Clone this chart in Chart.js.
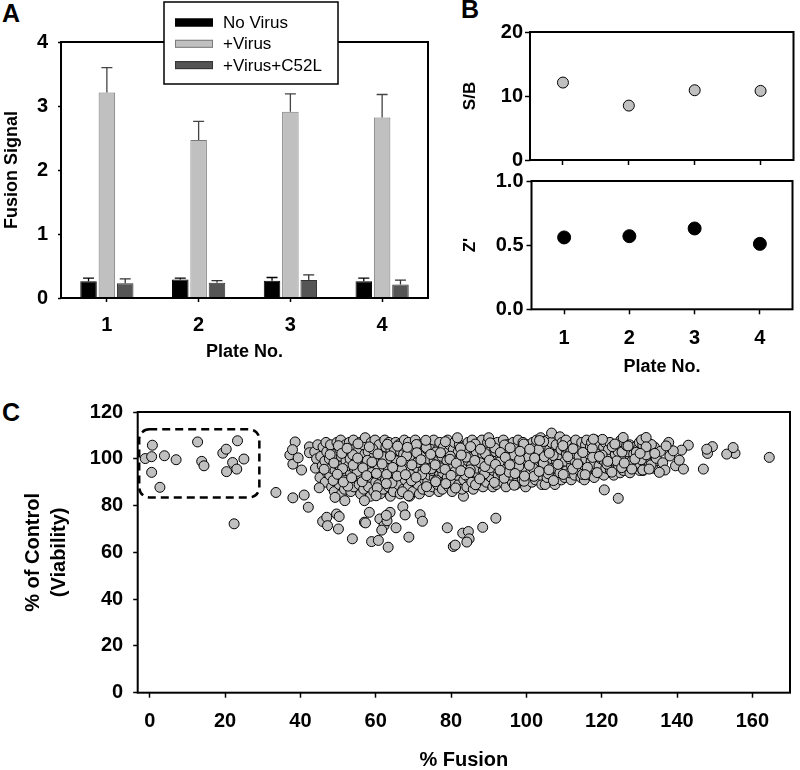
<!DOCTYPE html>
<html>
<head>
<meta charset="utf-8">
<script src="https://cdn.jsdelivr.net/npm/chart.js@4.4.0/dist/chart.umd.min.js"></script>
<style>
  body { margin: 0; background: #fff; width: 800px; height: 770px; position: relative; overflow: hidden;
         font-family: "Liberation Sans", Arial, sans-serif; }
  canvas { position: absolute; }
  .panel { position: absolute; font-weight: bold; font-size: 25px; line-height: 1; }
</style>
</head>
<body>
<div class="panel" style="left:2px;top:1px">A</div>
<div class="panel" style="left:461px;top:-3px">B</div>
<div class="panel" style="left:2px;top:400px">C</div>
<canvas id="chartA" width="440" height="370" style="left:0;top:0"></canvas>
<canvas id="chartSB" width="340" height="175" style="left:460px;top:0"></canvas>
<canvas id="chartZ" width="340" height="215" style="left:460px;top:165px"></canvas>
<canvas id="chartC" width="800" height="380" style="left:0;top:390px"></canvas>
<script>
// ---- datos ----
const plateNo = ['1', '2', '3', '4'];
const plateNum = [1, 2, 3, 4];

// A: señal de fusión (media + error)
const noVirus = [0.26, 0.29, 0.27, 0.26];
const noVirusErr = [0.05, 0.02, 0.05, 0.05];
const plusVirus = [3.21, 2.47, 2.91, 2.82];
const plusVirusErr = [0.39, 0.29, 0.28, 0.36];
const plusC52L = [0.23, 0.24, 0.28, 0.21];
const plusC52LErr = [0.07, 0.03, 0.08, 0.07];
const fusionTicks = [0, 1, 2, 3, 4];

// B: S/B y Z'
const sbRatio = [12.1, 8.5, 10.9, 10.8];
const zPrime = [0.56, 0.57, 0.63, 0.51];

// C: % fusión vs % viabilidad  [x, y]
const boxedHits = [
  [-1.2, 100.1], [0.7, 105.8], [0.5, 100.9], [0.5, 94.2], [2.7, 87.8], [3.9, 101.3], [7.0, 99.6],
  [12.7, 107.2], [13.8, 98.9], [14.4, 97.0], [19.4, 102.4], [20.3, 104.1], [20.4, 94.5],
  [22.0, 98.4], [23.1, 95.6], [23.3, 107.7], [25.0, 99.9]
];
const leftEdge = [
  [22.4, 72.2], [37.2, 101.6], [38.6, 107.2], [37.9, 103.9], [38.0, 97.7], [39.4, 100.4], [40.3, 95.2],
  [42.4, 105.1], [42.4, 102.6], [43.8, 103], [44.3, 100], [44.6, 106], [44.0, 96]
];
const mainBand = [
  [45.2, 92], [45.8, 97], [45.4, 101], [46.0, 105],
  [46.6, 90], [47.1, 94], [46.5, 99], [47.0, 103], [46.8, 107],
  [48.3, 88], [47.8, 93], [48.2, 96], [47.7, 100], [48.4, 104], [48.0, 106],
  [49.0, 86], [49.6, 91], [49.2, 95], [49.5, 98], [49.1, 102], [49.7, 107],
  [50.9, 85], [50.3, 89], [50.8, 93], [50.4, 97], [50.9, 101], [50.5, 104], [50.7, 108],
  [51.7, 87], [52.2, 92], [51.8, 95], [52.1, 99], [51.6, 103], [52.0, 106],
  [53.4, 86], [52.9, 90], [53.3, 94], [52.8, 97], [53.2, 100], [53.5, 104], [53.0, 107],
  [54.2, 88], [54.7, 92], [54.3, 96], [54.8, 99], [54.4, 102], [54.6, 105], [54.1, 108],
  [56.0, 85], [55.6, 89], [56.1, 93], [55.7, 97], [56.2, 101], [55.5, 104], [55.9, 107],
  [56.8, 87], [57.3, 91], [56.9, 95], [57.4, 98], [57.1, 102], [56.7, 106], [57.2, 109],
  [58.6, 84], [58.1, 88], [58.7, 92], [58.2, 96], [58.5, 100], [58.0, 103], [58.8, 107],
  [59.5, 86], [60.0, 90], [59.4, 94], [59.9, 97], [59.6, 101], [60.1, 105], [59.8, 108],
  [61.2, 85], [60.8, 89], [61.3, 93], [60.7, 96], [61.1, 99], [61.4, 103], [60.9, 106],
  [62.0, 87], [62.6, 91], [62.1, 95], [62.5, 98], [62.2, 102], [62.7, 105], [62.4, 108],
  [63.9, 84], [63.4, 88], [63.8, 92], [63.3, 96], [63.7, 100], [64.0, 104], [63.5, 107],
  [64.7, 86], [65.2, 90], [64.8, 94], [65.1, 97], [64.6, 101], [65.0, 104], [65.3, 107],
  [66.5, 85], [66.0, 89], [66.4, 93], [65.9, 97], [66.3, 100], [66.6, 103], [66.1, 106],
  [67.3, 87], [67.8, 91], [67.2, 95], [67.7, 98], [67.4, 102], [67.9, 105], [67.6, 108],
  [69.0, 84], [68.6, 88], [69.1, 92], [68.5, 96], [68.9, 99], [69.2, 103], [68.7, 107],
  [69.9, 86], [70.4, 90], [70.0, 94], [70.3, 97], [69.8, 101], [70.2, 104], [70.5, 108],
  [71.6, 85], [71.2, 89], [71.7, 93], [71.1, 96], [71.5, 100], [71.3, 103], [71.8, 106],
  [72.5, 87], [73.0, 91], [72.6, 95], [72.9, 98], [72.4, 102], [72.8, 106],
  [74.2, 86], [73.8, 90], [74.3, 93], [73.9, 97], [74.1, 100], [73.7, 104], [74.4, 107],
  [75.1, 88], [75.6, 92], [75.0, 95], [75.5, 99], [75.2, 102], [75.7, 105], [75.4, 108],
  [76.8, 86], [76.4, 89], [76.9, 93], [76.3, 97], [76.7, 101], [76.5, 104], [77.0, 107],
  [77.7, 87], [78.2, 91], [77.8, 94], [78.1, 98], [77.6, 101], [78.0, 105],
  [79.4, 88], [79.0, 92], [79.5, 96], [78.9, 99], [79.3, 103], [79.6, 106], [79.1, 108],
  [80.3, 86], [80.8, 90], [80.4, 94], [80.7, 97], [80.2, 101], [80.6, 104], [80.9, 107],
  [82.0, 89], [81.6, 93], [82.1, 96], [81.5, 100], [81.9, 103], [82.2, 106], [81.7, 109],
  [83.3, 84], [82.9, 87], [83.4, 91], [82.8, 95], [83.2, 98], [83.5, 102], [83.0, 105],
  [84.2, 88], [84.7, 92], [84.3, 96], [84.6, 99], [84.1, 103], [84.5, 107],
  [85.9, 87], [85.5, 90], [86.0, 94], [85.4, 97], [85.8, 101], [86.1, 104], [85.6, 108],
  [86.8, 89], [87.3, 93], [86.9, 96], [87.2, 100], [86.7, 103], [87.1, 106],
  [88.5, 88], [88.1, 91], [88.6, 95], [88.0, 98], [88.4, 102], [88.7, 105], [88.2, 108],
  [89.4, 90], [89.9, 93], [89.5, 97], [89.8, 100], [89.3, 104], [89.7, 107], [90.0, 109],
  [91.1, 88], [90.7, 92], [91.2, 95], [90.6, 99], [91.0, 102], [91.3, 106],
  [92.0, 89], [92.5, 93], [92.1, 96], [92.4, 100], [91.9, 103], [92.3, 107],
  [93.7, 90], [93.3, 94], [93.8, 97], [93.2, 101], [93.6, 104], [93.9, 108],
  [94.6, 88], [95.1, 92], [94.7, 96], [95.0, 99], [94.5, 102], [94.9, 106],
  [96.3, 90], [95.9, 93], [96.4, 97], [95.8, 100], [96.2, 104], [96.5, 107],
  [97.2, 89], [97.7, 92], [97.3, 95], [97.6, 99], [97.1, 102], [97.5, 105], [97.8, 108],
  [98.9, 91], [98.5, 94], [99.0, 98], [98.4, 101], [98.8, 104], [99.1, 107],
  [99.8, 88], [100.3, 92], [99.9, 95], [100.2, 99], [99.7, 102], [100.1, 106],
  [101.5, 90], [101.1, 94], [101.6, 97], [101.0, 100], [101.4, 103], [101.7, 107],
  [102.4, 91], [102.9, 95], [102.5, 98], [102.8, 102], [102.3, 105], [102.7, 108],
  [104.1, 89], [103.7, 93], [104.2, 96], [103.6, 100], [104.0, 103], [104.3, 106], [103.8, 109],
  [105.0, 89], [105.5, 92], [105.1, 95], [105.4, 99], [104.9, 102], [105.3, 105], [105.6, 108],
  [106.7, 93], [106.3, 97], [106.8, 100], [106.2, 104], [106.6, 107], [106.7, 111],
  [107.6, 89], [108.1, 92], [107.7, 96], [108.0, 99], [107.5, 102], [107.9, 106], [108.9, 109.4],
  [109.3, 91], [108.9, 94], [109.4, 98], [108.8, 101], [109.2, 104], [109.5, 107],
  [110.2, 92], [110.7, 95], [110.3, 99], [110.6, 102], [110.1, 105], [110.5, 108],
  [111.9, 91], [111.5, 94], [112.0, 97], [111.4, 100], [111.8, 103], [112.1, 106],
  [112.8, 93], [113.3, 96], [112.9, 99], [113.2, 102], [112.7, 105], [113.1, 108],
  [114.5, 92], [114.1, 95], [114.6, 98], [114.0, 101], [114.4, 104], [114.7, 107],
  [115.4, 91], [115.9, 94], [115.5, 97], [115.8, 100], [115.3, 103], [115.7, 106], [116.0, 108],
  [117.1, 93], [116.7, 96], [117.2, 99], [116.6, 102], [117.0, 105], [117.3, 107],
  [118.0, 92], [118.5, 95], [118.1, 98], [118.4, 101], [117.9, 104], [118.3, 108],
  [119.7, 94], [119.3, 97], [119.8, 100], [119.2, 103], [119.6, 106],
  [120.6, 93], [121.1, 96], [120.7, 99], [121.0, 102], [120.5, 105], [120.9, 107],
  [122.3, 95], [121.9, 98], [122.4, 101], [121.8, 104], [122.2, 107],
  [123.2, 93], [123.7, 96], [123.3, 99], [123.6, 102], [123.1, 105],
  [124.9, 94], [124.5, 97], [125.0, 100], [124.4, 103], [124.8, 106], [125.1, 108],
  [125.8, 95], [126.3, 98], [125.9, 101], [126.2, 104], [125.7, 107],
  [127.5, 94], [127.1, 97], [127.6, 100], [127.0, 103], [127.4, 106],
  [128.4, 96], [128.9, 99], [128.5, 102], [128.8, 105],
  [130.1, 95], [129.7, 98], [130.2, 101], [129.6, 104], [130.0, 107],
  [131.0, 95], [131.5, 97], [131.1, 100], [131.4, 103], [130.9, 106],
  [132.7, 98], [132.3, 101], [132.8, 104], [132.2, 107],
  [133.6, 96], [134.1, 99], [133.7, 102], [134.0, 105]
];
// puntos superpuestos (capa superior, irregular)
const bandOverlay = [
  [46.3, 95.5], [47.9, 101.8], [48.7, 90.7], [50.1, 105.6], [51.2, 95.8], [52.6, 88.3], [53.9, 101.7],
  [55.1, 94.6], [55.3, 106.4], [56.4, 90.2], [57.8, 99.3], [58.9, 94.1], [59.2, 104.2], [60.4, 87.6],
  [61.8, 100.9], [62.9, 93.3], [63.1, 106.2], [64.3, 89.7], [65.6, 99.1], [66.9, 95.4], [67.1, 85.9],
  [68.2, 101.3], [69.5, 90.6], [70.8, 106.1], [71.0, 98.4], [72.2, 93.2], [73.4, 104.8], [73.5, 88.1],
  [74.8, 95.8], [76.0, 102.9], [76.1, 90.9], [77.3, 96.1], [78.5, 107.3], [78.6, 89.4], [79.8, 101.1],
  [81.1, 94.7], [81.2, 87.5], [82.5, 104.6], [83.8, 93.1], [84.0, 100.7], [85.1, 95.3], [86.4, 106.3],
  [86.5, 88.9], [87.7, 98.3], [88.9, 93.6], [89.1, 102.2], [90.3, 96.1], [91.5, 89.9], [91.6, 104.6],
  [92.8, 98.6], [94.1, 91.7], [94.2, 105.9], [95.4, 94.3], [96.7, 101.6], [96.8, 88.7], [98.0, 96.8],
  [99.3, 106.3], [99.4, 90.4], [100.6, 100.7], [101.9, 95.8], [102.0, 92.5], [103.2, 103.9], [104.5, 98.1],
  [104.6, 107.4], [105.8, 93.6], [107.1, 101.4], [107.2, 90.7], [108.4, 97.6], [109.7, 105.6], [109.8, 93.3],
  [111.0, 100.9], [112.3, 95.6], [112.4, 104.3], [113.6, 97.8], [114.9, 93.3], [115.0, 102.7], [116.2, 96.3],
  [117.5, 104.4], [117.6, 100.6], [118.8, 94.1], [120.1, 101.6], [120.2, 108.3], [121.4, 97.7], [122.7, 94.3],
  [122.8, 105.2], [124.0, 99.1], [125.3, 96.2], [125.4, 102.9], [126.6, 105.6], [127.9, 98.8], [128.0, 95.6],
  [129.2, 102.8], [130.5, 99.6], [130.6, 108.1], [131.8, 101.7], [133.1, 97.4], [133.2, 106.1], [134.5, 100.2],
  [135.6, 103.2], [136.2, 98.3], [138.1, 101.2], [139.6, 97.0], [137.8, 107.0],
  [48.9, 98.2], [49.8, 93.4], [51.0, 102.3], [51.4, 90.1], [52.4, 104.5], [53.6, 91.9], [54.0, 97.3],
  [55.2, 100.3], [56.6, 96.1], [57.6, 92.8], [58.3, 105.1], [59.0, 98.6], [60.2, 93.7], [60.6, 102.1],
  [61.7, 97.8], [62.8, 89.4], [63.9, 101.2], [64.5, 96.3], [65.7, 92.6], [65.8, 105.4], [66.8, 98.9],
  [67.9, 93.2], [68.4, 104.9], [69.6, 97.4], [70.7, 92.1], [70.9, 102.6], [72.0, 99.6], [73.2, 95.7],
  [73.3, 107.9], [74.6, 101.9], [75.8, 97.4], [75.9, 90.2], [77.2, 102.6], [78.4, 95.5], [79.7, 99.8],
  [80.0, 92.9], [81.4, 98.1], [82.6, 94.9], [82.7, 101.6], [84.9, 94.1], [85.2, 105.2], [86.3, 99.3],
  [87.6, 91.4], [87.8, 104.1], [89.0, 96.7], [90.2, 99.4], [90.4, 106.8], [91.8, 97.6], [93.0, 95.1],
  [93.1, 102.7], [94.4, 100.6], [95.6, 97.4], [95.7, 104.7], [97.0, 93.7], [98.2, 99.7], [98.3, 103.2],
  [99.5, 92.6], [100.8, 97.2], [100.9, 104.1], [102.2, 100.3], [103.4, 94.6], [103.5, 107.8], [104.8, 100.9],
  [106.0, 95.3], [106.1, 102.4]
];
const lowViability = [
  [33.5, 85.6], [38.0, 83.3], [41.0, 84.5], [42.1, 79.3], [45.0, 87.6], [45.9, 73.2], [47.0, 75.0],
  [47.2, 71.4], [49.6, 76.4], [50.1, 70.0], [50.3, 75.3], [49.2, 83.5], [51.8, 82.1], [53.8, 65.8],
  [57.0, 72.9], [57.3, 72.6], [58.3, 77.1], [57.0, 82.1], [58.9, 64.6], [60.7, 65.1], [60.1, 84.2],
  [61.1, 74.3], [62.2, 71.4], [63.3, 62.2], [63.8, 77.1], [63.0, 73.5], [62.8, 75.8], [61.6, 69.5],
  [65.4, 70.5], [67.2, 79.5], [67.8, 76.0], [68.8, 66.5], [68.7, 84.2], [71.8, 76.1], [72.4, 73.3],
  [79.0, 70.5], [80.6, 62.5], [81.1, 63.1], [83.1, 68.2], [84.6, 68.9], [84.8, 65.8], [84.2, 64.4],
  [88.4, 70.7], [91.9, 74.6], [120.7, 86.7], [124.4, 83.1]
];
const rightTail = [
  [164.5, 100.6], [155.4, 102.3], [153.2, 102.0], [154.9, 104.8], [149.4, 105.2], [148.1, 102.3],
  [147.9, 104.1], [147.0, 95.6], [143.0, 105.8], [141.7, 95.6], [140.6, 99.4], [141.2, 103.7],
  [139.0, 103.4], [137.1, 105.5], [136.8, 95.2], [135.3, 94.2], [134.1, 102.3], [131.8, 109.1],
  [131.8, 105.1], [130.9, 95.2], [132.6, 95.6], [125.7, 109.1], [127.0, 105.5], [126.0, 98.2],
  [117.8, 108.4], [119.4, 101.0], [115.6, 93.2], [121.6, 98.9], [123.5, 106.3], [128.8, 99.9],
  [130.2, 102.3]
];
const hitBox = { xMin: -2.8, xMax: 29.1, yMin: 83.5, yMax: 112.6 };

// ---- estilo ----
const FONT = '"Liberation Sans", Arial, sans-serif';
Chart.defaults.font.family = FONT;
Chart.defaults.color = '#000';
Chart.defaults.animation = false;
Chart.defaults.events = [];
Chart.defaults.plugins.legend.display = false;
Chart.defaults.plugins.tooltip.enabled = false;

const tickFont = { size: 20, weight: 'bold' };
const GRAY_FILL = '#c0c0c0';

// marco completo alrededor del área del gráfico
const framePlugin = {
  id: 'frame',
  afterDatasetsDraw(chart) {
    const { ctx, chartArea: a } = chart;
    ctx.save();
    ctx.strokeStyle = '#000';
    ctx.lineWidth = 2;
    ctx.strokeRect(a.left, a.top, a.right - a.left, a.bottom - a.top);
    ctx.restore();
  }
};

// barras de error (sólo hacia arriba, con tope)
const errorBarsPlugin = {
  id: 'errorBars',
  afterDatasetsDraw(chart) {
    const { ctx } = chart;
    const y = chart.scales.y;
    chart.data.datasets.forEach((ds, i) => {
      chart.getDatasetMeta(i).data.forEach((bar, j) => {
        const top = y.getPixelForValue(ds.data[j] + ds.errors[j]);
        ctx.save();
        ctx.strokeStyle = ds.errorColor;
        ctx.lineWidth = 1.3;
        ctx.beginPath();
        ctx.moveTo(bar.x, bar.y);
        ctx.lineTo(bar.x, top);
        ctx.moveTo(bar.x - 5.5, top);
        ctx.lineTo(bar.x + 5.5, top);
        ctx.stroke();
        ctx.restore();
      });
    });
  }
};

// leyenda en recuadro, por encima del marco
const boxLegendPlugin = {
  id: 'boxLegend',
  afterDraw(chart) {
    const { ctx } = chart;
    const bx = 164, by = 2, bw = 174, bh = 82;
    ctx.save();
    ctx.fillStyle = '#fff';
    ctx.fillRect(bx, by, bw, bh);
    ctx.strokeStyle = '#000';
    ctx.lineWidth = 1.5;
    ctx.strokeRect(bx, by, bw, bh);
    ctx.font = '17px ' + FONT;
    ctx.textBaseline = 'middle';
    chart.data.datasets.forEach((ds, i) => {
      const cy = 22.5 + i * 21.3;
      ctx.fillStyle = ds.backgroundColor;
      ctx.fillRect(175, cy - 4, 38, 8);
      ctx.strokeStyle = ds.borderColor;
      ctx.lineWidth = 1;
      ctx.strokeRect(175.5, cy - 3.5, 37, 7);
      ctx.fillStyle = '#000';
      ctx.fillText(ds.label, 223, cy + 1);
    });
    ctx.restore();
  }
};

// recuadro discontinuo de los "hits"
const hitBoxPlugin = {
  id: 'hitBox',
  afterDatasetsDraw(chart) {
    const { ctx, scales: { x, y } } = chart;
    const l = x.getPixelForValue(hitBox.xMin), r = x.getPixelForValue(hitBox.xMax);
    const t = y.getPixelForValue(hitBox.yMax), b = y.getPixelForValue(hitBox.yMin);
    ctx.save();
    ctx.strokeStyle = '#000';
    ctx.lineWidth = 2.5;
    ctx.setLineDash([8, 5]);
    ctx.beginPath();
    ctx.roundRect(l, t, r - l, b - t, 10);
    ctx.stroke();
    ctx.restore();
  }
};

function axisGrid(len) {
  return { drawOnChartArea: false, drawTicks: true, tickLength: len, tickColor: '#000', tickWidth: 1.5, color: '#000' };
}

// ---- A: barras ----
new Chart(document.getElementById('chartA'), {
  type: 'bar',
  data: {
    labels: plateNo,
    datasets: [
      { label: 'No Virus', data: noVirus, errors: noVirusErr, backgroundColor: '#000000', borderColor: '#000000', errorColor: '#000', borderWidth: 1 },
      { label: '+Virus', data: plusVirus, errors: plusVirusErr, backgroundColor: GRAY_FILL, borderColor: '#7a7a7a', errorColor: '#444', borderWidth: 1 },
      { label: '+Virus+C52L', data: plusC52L, errors: plusC52LErr, backgroundColor: '#555555', borderColor: '#333333', errorColor: '#333', borderWidth: 1 },
    ],
  },
  options: {
    responsive: false,
    layout: { padding: { top: 42, right: 12, left: 0, bottom: 0 } },
    datasets: { bar: { barPercentage: 0.9, categoryPercentage: 0.6 } },
    scales: {
      x: {
        grid: { ...axisGrid(4), offset: false },
        border: { display: false },
        ticks: { font: tickFont, padding: 11 },
        title: { display: true, text: 'Plate No.', font: { size: 18, weight: 'bold' }, padding: { top: 0, bottom: 7 } },
        afterFit: s => { s.height = 72; },
      },
      y: {
        min: 0, max: 4,
        afterBuildTicks: s => { s.ticks = fusionTicks.map(v => ({ value: v })); },
        grid: axisGrid(3),
        border: { display: false },
        ticks: { font: tickFont, padding: 10 },
        title: { display: true, text: 'Fusion Signal', font: { size: 18, weight: 'bold' }, padding: { top: 1, bottom: 0 } },
        afterFit: s => { s.width = 61; },
      },
    },
  },
  plugins: [framePlugin, errorBarsPlugin, boxLegendPlugin],
});

// ---- B: S/B ----
new Chart(document.getElementById('chartSB'), {
  type: 'scatter',
  data: {
    datasets: [{
      label: 'S/B',
      data: plateNum.map((p, i) => ({ x: p, y: sbRatio[i] })),
      backgroundColor: GRAY_FILL, borderColor: '#000', borderWidth: 1, pointRadius: 5.5,
    }],
  },
  options: {
    responsive: false,
    layout: { padding: { top: 32, right: 5, left: 0, bottom: 0 } },
    scales: {
      x: {
        min: 0.5, max: 4.5,
        afterBuildTicks: s => { s.ticks = plateNum.map(v => ({ value: v })); },
        grid: axisGrid(5), border: { display: false },
        ticks: { display: false },
        afterFit: s => { s.height = 15; },
      },
      y: {
        min: 0, max: 20,
        ticks: { stepSize: 10, font: tickFont, padding: 2 },
        grid: axisGrid(5), border: { display: false },
        title: { display: true, text: 'S/B', font: { size: 17, weight: 'bold' }, padding: { top: 0, bottom: 0 } },
        afterFit: s => { s.width = 70; },
      },
    },
  },
  plugins: [framePlugin],
});

// ---- B: Z' ----
new Chart(document.getElementById('chartZ'), {
  type: 'scatter',
  data: {
    datasets: [{
      label: "Z'",
      data: plateNum.map((p, i) => ({ x: p, y: zPrime[i] })),
      backgroundColor: '#000', borderColor: '#000', borderWidth: 1, pointRadius: 6.5,
    }],
  },
  options: {
    responsive: false,
    layout: { padding: { top: 16, right: 5, left: 0, bottom: 0 } },
    scales: {
      x: {
        min: 0.5, max: 4.5,
        afterBuildTicks: s => { s.ticks = plateNum.map(v => ({ value: v })); },
        grid: axisGrid(5), border: { display: false },
        ticks: { font: tickFont, padding: 12 },
        title: { display: true, text: 'Plate No.', font: { size: 18, weight: 'bold' }, padding: { top: 0, bottom: 2 } },
        afterFit: s => { s.height = 70.7; },
      },
      y: {
        min: 0, max: 1,
        ticks: { stepSize: 0.5, font: tickFont, padding: 3, callback: v => v.toFixed(1) },
        grid: axisGrid(5), border: { display: false },
        title: { display: true, text: "Z'", font: { size: 17, weight: 'bold' }, padding: { top: 0, bottom: 0 } },
        afterFit: s => { s.width = 71.5; },
      },
    },
  },
  plugins: [framePlugin],
});

// ---- C: fusión vs viabilidad ----
const xTicksC = [0, 20, 40, 60, 80, 100, 120, 140, 160];
const yTicksC = [0, 20, 40, 60, 80, 100, 120];
const allPoints = [...boxedHits, ...leftEdge, ...mainBand, ...bandOverlay, ...lowViability, ...rightTail];

new Chart(document.getElementById('chartC'), {
  type: 'scatter',
  data: {
    datasets: [{
      label: 'Compuestos',
      data: allPoints.map(([x, y]) => ({ x, y })),
      backgroundColor: GRAY_FILL, borderColor: '#000', borderWidth: 1, pointRadius: 5,
    }],
  },
  options: {
    responsive: false,
    layout: { padding: { top: 21, right: 10, left: 0, bottom: 0 } },
    scales: {
      x: {
        min: -3.2, max: 170,
        afterBuildTicks: s => { s.ticks = xTicksC.map(v => ({ value: v })); },
        grid: axisGrid(5), border: { display: false },
        ticks: { font: tickFont, padding: 12 },
        title: { display: true, text: '% Fusion', font: { size: 20, weight: 'bold', lineHeight: 1 }, padding: { top: 0, bottom: 0 } },
        afterFit: s => { s.height = 77.3; },
      },
      y: {
        min: 0, max: 120,
        afterBuildTicks: s => { s.ticks = yTicksC.map(v => ({ value: v })); },
        grid: axisGrid(4.5), border: { display: false },
        ticks: { font: tickFont, padding: 10 },
        title: { display: true, text: ['% of Control', '(Viability)'], font: { size: 20, weight: 'bold', lineHeight: 1.33 }, padding: { top: 20, bottom: 0 } },
        afterFit: s => { s.width = 137.7; },
      },
    },
  },
  plugins: [framePlugin, hitBoxPlugin],
});
</script>
</body>
</html>
